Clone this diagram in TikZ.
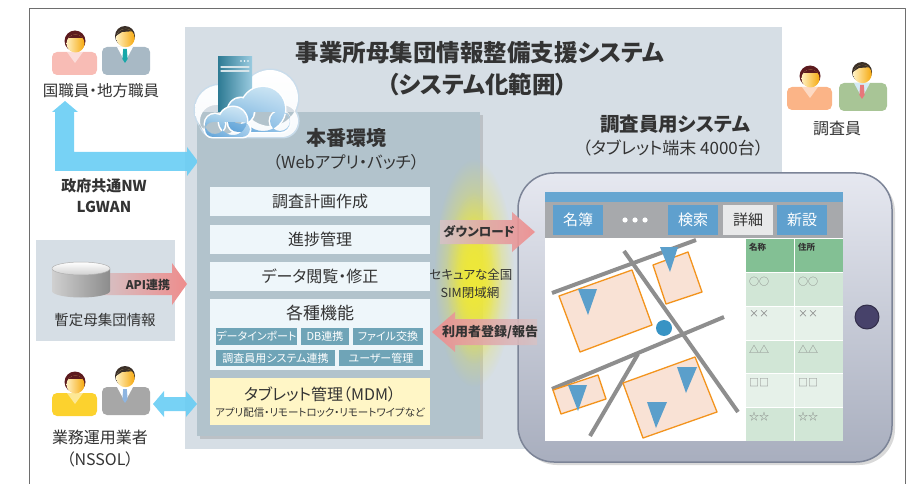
\documentclass[tikz,border=0pt]{standalone}
\usepackage{fontspec}
\setmainfont{Noto Sans CJK JP}[RawFeature=+palt]
\usetikzlibrary{shadows,fadings,shadings}
% colour names: hex digits 0..9 written as q w e r t z u i o p
\definecolor{ueueue}{HTML}{6E6E6E}
\definecolor{dudeez}{HTML}{D6DEE5}
\definecolor{berccc}{HTML}{B2C3CC}
\definecolor{eefufa}{HTML}{EEF6FA}
\definecolor{ufatbi}{HTML}{6FA4B7}
\definecolor{fffucu}{HTML}{FFF6C6}
\definecolor{rrrrrr}{HTML}{333333}
\definecolor{uocdft}{HTML}{68CDF4}
\definecolor{eeococ}{HTML}{EE8C8C}
\definecolor{dzcrcu}{HTML}{D5C3C6}
\definecolor{eeeora}{HTML}{EEE83A}
\definecolor{eueofq}{HTML}{E6E8F0}
\definecolor{aoaebe}{HTML}{A8AEBE}
\definecolor{icotpi}{HTML}{7C8497}
\definecolor{uuaudw}{HTML}{66A6D1}
\definecolor{aiapac}{HTML}{A7A9AC}
\definecolor{zfaqce}{HTML}{5FA0CE}
\definecolor{eoepea}{HTML}{E8E9EA}
\definecolor{orcqpt}{HTML}{83C094}
\definecolor{dweudu}{HTML}{D1E6D6}
\definecolor{eufwep}{HTML}{E6F1E9}
\definecolor{oeoeoe}{HTML}{8E8E8E}
\definecolor{fpeedz}{HTML}{F9E2D5}
\definecolor{ftptwe}{HTML}{F3941E}
\definecolor{zbpfcb}{HTML}{5B9FCB}
\definecolor{ropect}{HTML}{3893C4}
\definecolor{titeua}{HTML}{47426A}
\definecolor{fobczb}{HTML}{F8BCB5}
\definecolor{aobpcz}{HTML}{A8B9C5}
\definecolor{wpaiap}{HTML}{19A7A9}
\definecolor{fcdeee}{HTML}{FCD22E}
\definecolor{aiaiai}{HTML}{A7A7A7}
\definecolor{oebzew}{HTML}{8EB5E1}
\definecolor{fbbtoi}{HTML}{FBB487}
\definecolor{aoczpu}{HTML}{A8C596}
\definecolor{eoiiia}{HTML}{E8777A}
\definecolor{dteafz}{HTML}{D4EAF5}
\definecolor{zcwawe}{HTML}{5C1A1E}
\definecolor{rbefei}{HTML}{3B2F27}
\definecolor{fffqcq}{HTML}{FFF0C0}
\definecolor{fuapqf}{HTML}{F6A90F}
\definecolor{dqdqdq}{HTML}{D0D0D0}
\definecolor{ocococ}{HTML}{8C8C8C}
\definecolor{ediapr}{HTML}{2D7A93}
\definecolor{pacbeq}{HTML}{9ACBE0}
\definecolor{cqeqfq}{HTML}{C0E0F0}
\definecolor{dqeufz}{HTML}{D0E6F5}
\definecolor{zapfdu}{HTML}{5A9FD6}
\definecolor{pccoea}{HTML}{9CC8EA}
\definecolor{cpdceb}{HTML}{C9DCEB}
\definecolor{oqoqoq}{HTML}{808080}

\tikzfading[name=glowfade,inner color=transparent!0,outer color=transparent!100]

\tikzset{
  txt/.style={text=rrrrrr,inner sep=0pt},
  fnbox/.style={fill=eefufa,minimum width=220,minimum height=29,inner sep=0pt,text=rrrrrr,font=\fontsize{16}{18}\selectfont},
  subfn/.style={fill=ufatbi,text=white,minimum height=17,inner sep=0pt,font=\fontsize{11}{12}\selectfont},
  tabbtn/.style={fill=zfaqce,text=white,minimum width=50,minimum height=30,inner sep=0pt,font=\fontsize{15}{17}\selectfont},
  cellhd/.style={anchor=north west,inner sep=0pt,text=rrrrrr,font=\bfseries\fontsize{8.5}{10}\selectfont},
  cell/.style={anchor=north west,inner sep=0pt,text=oqoqoq,font=\fontsize{10}{12}\selectfont},
  road/.style={oeoeoe,line width=4,line cap=butt},
  lot/.style={fill=fpeedz,draw=ftptwe,line width=1.3},
  flag/.style={fill=zbpfcb},
  bluecloud/.style={upper left=cqeqfq,upper right=dqeufz,lower left=zapfdu,lower right=pccoea},
  pics/woman/.style={code={
    \fill[#1,rounded corners=5] (-23,10) rectangle (22,33);
    \fill[white,fill opacity=0.5] (-8,10) -- (0,21) -- (8,10) -- cycle;
    \fill[zcwawe] (0,-1) circle (10.5);
    \shade[left color=fffqcq,right color=fuapqf] (0.5,1.5) circle (9);
    \begin{scope}
      \clip (0.5,1.5) circle (9);
      \fill[zcwawe] (-10,-9) rectangle (11,-4);
    \end{scope}
  }},
  pics/man/.style n args={3}{code={
    \fill[#1,rounded corners=5] (-23,10) rectangle (25,38);
    \fill[#2] (-8,10) -- (0,25) -- (8,10) -- cycle;
    \fill[#3] (-1.8,12) -- (1.8,12) -- (2.6,22) -- (0,26) -- (-2.6,22) -- cycle;
    \fill[rbefei] (0,-1) circle (10);
    \shade[left color=fffqcq,right color=fuapqf] (0.5,1) circle (9.2);
    \begin{scope}
      \clip (0.5,1) circle (9.2);
      \fill[rbefei] (-11,0) -- (-3,-5) -- (11,-6) -- (11,-12) -- (-11,-12) -- cycle;
    \end{scope}
  }}
}

\begin{document}
\begin{tikzpicture}[line cap=round,line join=round,x=1pt,y=-1pt]
\useasboundingbox (0,0) rectangle (919,484);
\draw [ueueue,line width=0.8] (29,484) -- (29,8) -- (905,8) -- (905,484);
% system area
\fill [dudeez] (185,27) rectangle (782,449);
\node [txt,font=\bfseries\fontsize{23.5}{27}\selectfont] (title) at (480,53) {事業所母集団情報整備支援システム};
\node [txt,font=\bfseries\fontsize{23.5}{27}\selectfont] (scope) at (477,85) {（システム化範囲）};

% left: users, LGWAN
\pic at (75,42) {woman=fobczb};
\pic at (125,37) {man={aobpcz}{white}{wpaiap}};
\node [txt,font=\fontsize{15.5}{17}\selectfont] (kuni) at (101,91) {国職員・地方職員};
\fill [uocdft,fill opacity=0.9] (52,112) -- (65,101) -- (78,112) -- (74,112) -- (74,152) -- (187,152) -- (187,147) -- (198,161.5) -- (187,176) -- (187,171) -- (55,171) -- (55,112) -- cycle;
\node [txt,font=\bfseries\fontsize{15}{17}\selectfont] (nw) at (104,186) {政府共通NW};
\node [txt,font=\bfseries\fontsize{15}{17}\selectfont] (lgwan) at (104,207) {LGWAN};

% provisional population DB
\fill [dudeez] (36,240) rectangle (175,341);
\shade [left color=dzcrcu,right color=eeococ] (100,273) -- (172,273) -- (172,263) -- (187,284) -- (172,305) -- (172,295) -- (100,295) -- cycle;
\node [txt,font=\bfseries\fontsize{12}{14}\selectfont] (api) at (148,285) {API連携};
\shade [left color=dqdqdq,right color=ocococ] (52,268.5) -- (52,291) arc (180:0:29 and 6.5) -- (110,268.5) -- cycle;
\shade [top color=white,bottom color=dqdqdq,draw=ocococ!70,line width=0.5] (81,268.5) ellipse (29 and 6.5);
\node [txt,font=\fontsize{14.5}{17}\selectfont] (zantei) at (105,320) {暫定母集団情報};

% operators
\pic at (75,383) {woman=fcdeee};
\pic at (125,377) {man={aiaiai}{white}{oebzew}};
\fill [uocdft,fill opacity=0.9] (153,404) -- (164,391) -- (164,397) -- (186,397) -- (186,391) -- (197,404) -- (186,417) -- (186,411) -- (164,411) -- (164,417) -- cycle;
\node [txt,font=\fontsize{16}{18}\selectfont] (gyomu) at (100,437) {業務運用業者};
\node [txt,font=\fontsize{16}{18}\selectfont] (nssol) at (100,459) {（NSSOL）};

% production environment
\fill [berccc,drop shadow={shadow xshift=3pt,shadow yshift=-3pt,opacity=0.3}] (197,112) rectangle (480,436);
\node [txt,font=\bfseries\fontsize{20}{24}\selectfont] (honban) at (346,138) {本番環境};
\node [txt,font=\fontsize{16.5}{18}\selectfont] (webapp) at (346,162) {（Webアプリ・バッチ）};
\node [fnbox] (keikaku) at (320,201.5) {調査計画作成};
\node [fnbox] (shinchoku) at (320,239.5) {進捗管理};
\node [fnbox] (etsuran) at (320,276.5) {データ閲覧・修正};
\node [fnbox,minimum height=71] (kakushu) at (320,334.5) {};
\node [txt,font=\fontsize{17}{19}\selectfont] (kakushut) at (320,313) {各種機能};
\node [subfn,minimum width=81] (import) at (256.5,336.5) {データインポート};
\node [subfn,minimum width=48] (dbrenkei) at (325,336.5) {DB連携};
\node [subfn,minimum width=70] (file) at (388,336.5) {ファイル交換};
\node [subfn,minimum width=119,minimum height=16] (chosarenkei) at (275.5,358) {調査員用システム連携};
\node [subfn,minimum width=84,minimum height=16] (user) at (381,358) {ユーザー管理};
\node [fnbox,fill=fffucu,minimum height=47] (mdm) at (320,401.5) {};
\node [txt,font=\fontsize{16}{18}\selectfont] (mdmt) at (320,394) {タブレット管理（MDM）};
\node [txt,font=\fontsize{10.5}{12}\selectfont] (mdms) at (320,413) {アプリ配信・リモートロック・リモートワイプなど};

% closed network
\fill [eeeora,path fading=glowfade] (474,273) ellipse (40 and 114);
\fill [eeeora,path fading=glowfade] (474,278) ellipse (28 and 86);
\fill [eeeora,path fading=glowfade] (474,280) ellipse (20 and 66);
\node [txt,font=\fontsize{12.5}{14}\selectfont] (secure) at (471,275) {セキュアな全国};
\node [txt,font=\fontsize{12.5}{14}\selectfont] (sim) at (470,293) {SIM閉域網};

% survey staff
\node [txt,font=\bfseries\fontsize{19.5}{22}\selectfont] (chosasys) at (675,124) {調査員用システム};
\node [txt,font=\fontsize{17}{19}\selectfont] (tablet) at (673,148) {（タブレット端末 4000台）};
\pic at (810,77) {woman=fbbtoi};
\pic at (862,73) {man={aoczpu}{dteafz}{eoiiia}};
\node [txt,font=\fontsize{16}{18}\selectfont] (chosain) at (837,128) {調査員};

% tablet
\path [top color=eueofq,bottom color=aoaebe,draw=icotpi,line width=1.5,rounded corners=36,drop shadow={shadow xshift=3pt,shadow yshift=-3pt,opacity=0.3}] (518,173) rectangle (892,462);
\fill [white] (545,192) rectangle (843,441);
\fill [uuaudw] (545,192) rectangle (843,202);
\fill [aiapac] (545,202) rectangle (843,238);
\node [tabbtn] (meibo) at (578,220) {名簿};
\foreach \x in {625,635,645} \fill [white] (\x,220) circle (2.6);
\node [tabbtn] (kensaku) at (693,220) {検索};
\node [tabbtn,fill=eoepea,text=rrrrrr] (shosai) at (748,220) {詳細};
\node [tabbtn] (shinsetsu) at (802,220) {新設};
% map
\begin{scope}
\clip (545,238) rectangle (745,441);
\draw [road] (552,293) -- (696,240);
\draw [road] (624,251) -- (738,412);
\draw [road] (552,389) -- (724,317);
\draw [road] (590,436) -- (638,354);
\filldraw [lot] (559,296) -- (632,270) -- (652,325) -- (580,352) -- cycle;
\filldraw [lot] (653,265) -- (688,252) -- (702,292) -- (666,304) -- cycle;
\filldraw [lot] (553,390) -- (598,375) -- (606,399) -- (561,414) -- cycle;
\filldraw [lot] (623,383) -- (695,357) -- (717,412) -- (643,438) -- cycle;
\fill [flag] (660,247) -- (678,247) -- (670,272) -- cycle;
\fill [flag] (578,289) -- (597,289) -- (588,315) -- cycle;
\fill [flag] (677,367) -- (697,367) -- (686,393) -- cycle;
\fill [flag] (647,402) -- (667,402) -- (656,428) -- cycle;
\fill [flag] (568,385) -- (587,385) -- (578,411) -- cycle;
\fill [ropect] (664,328) circle (8);
\end{scope}
% list
\fill [orcqpt] (746,239) rectangle (793.5,272);
\fill [orcqpt] (795,239) rectangle (843,272);
\node [cellhd] (meisho) at (749,243) {名称};
\node [cellhd] (jusho) at (798,243) {住所};
\foreach \s [count=\i] in {○○,××,△△,□□,☆☆} {
  \pgfmathsetmacro\yy{272+(\i-1)*33.8}
  \ifodd\i \def\rowc{dweudu}\else \def\rowc{eufwep}\fi
  \fill [\rowc] (746,\yy+1) rectangle (793.5,\yy+33.8);
  \fill [\rowc] (795,\yy+1) rectangle (843,\yy+33.8);
  \node [cell] (a\i) at (749,\yy+5) {\s};
  \node [cell] (b\i) at (798,\yy+5) {\s};
}
\filldraw [fill=titeua,draw=titeua!70!black,line width=1] (867,317) circle (12);

% transfers
\shade [left color=dzcrcu,right color=eeococ,fill opacity=0.9] (440,220) -- (512,220) -- (512,212) -- (535,232) -- (512,252) -- (512,244) -- (440,244) -- cycle;
\node [txt,font=\bfseries\fontsize{12.5}{14}\selectfont] (download) at (479,232) {ダウンロード};
\shade [left color=eeococ,right color=dzcrcu,fill opacity=0.9] (432,332) -- (455,312) -- (455,319) -- (537,319) -- (537,345) -- (455,345) -- (455,352) -- cycle;
\node [txt,font=\bfseries\fontsize{13}{15}\selectfont] (hokoku) at (490,332) {利用者登録/報告};

% cloud and server
\fill [cpdceb] (270,98) circle (29.5) (220,110) circle (26.5) [rounded corners=17] (198.5,103.5) rectangle (299.5,138.5);
\shade [top color=white,bottom color=white!85!cpdceb] (270,98) circle (28) (220,110) circle (25) [rounded corners=16] (200,105) rectangle (298,137);
\shade [left color=ediapr,right color=pacbeq] (218,57) rectangle (252,112);
\draw [white!80!ediapr,line width=1.2] (221,67) -- (249,67) (221,71) -- (249,71);
\foreach \x in {241,244.5,248} \fill [white] (\x,61) circle (0.8);
\fill [white] (263,109) circle (23.5) (280,121) circle (11.5) (241,111) circle (14.5) [rounded corners=11] (226.5,110.5) rectangle (291.5,133.5);
\shade [bluecloud] (263,109) circle (22) (280,121) circle (10) (241,111) circle (13) [rounded corners=10] (228,112) rectangle (290,132);
\fill [white] (233,121) circle (15.5) (215,124) circle (11.5) [rounded corners=9] (203.5,120.5) rectangle (251.5,138.5);
\shade [bluecloud] (233,121) circle (14) (215,124) circle (10) [rounded corners=8] (205,122) rectangle (250,137);
\end{tikzpicture}
\end{document}
